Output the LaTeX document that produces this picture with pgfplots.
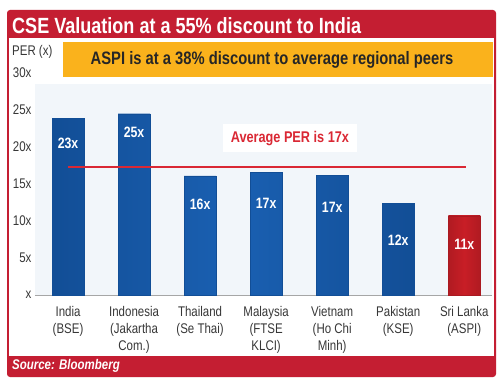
\documentclass[border=0pt]{standalone}
\usepackage{pgfplots}
\pgfplotsset{compat=1.18}
\usepackage{fontspec}
\setmainfont{Liberation Sans}[FakeStretch=0.82]
\definecolor{cseRed}{RGB}{196,30,50}
\definecolor{barBlue}{RGB}{26,96,178}
\definecolor{barEdge}{RGB}{18,78,150}
\definecolor{slRed}{RGB}{200,30,38}
\definecolor{avgRed}{RGB}{218,40,52}
\definecolor{orangeBox}{RGB}{250,178,28}
\definecolor{plotBg}{RGB}{242,246,250}
\definecolor{tickGray}{RGB}{55,55,55}
\begin{document}
\begin{tikzpicture}
\useasboundingbox (0pt,0pt) rectangle (500pt,384pt);
\fill[white] (0pt,0pt) rectangle (500pt,384pt);
% frame
\fill[cseRed, rounded corners=3pt] (7pt,7pt) rectangle (496pt,374pt);
\fill[white] (9pt,28pt) rectangle (494pt,346pt);
\fill[plotBg] (35pt,89pt) rectangle (492pt,300pt);
\begin{axis}[
  at={(35pt,89pt)}, anchor=south west,
  scale only axis, width=457pt, height=222pt,
  xmin=-0.5, xmax=6.42, ymin=0, ymax=30,
  axis lines*=left,
  y axis line style={draw=none},
  x axis line style={draw=gray!70, line width=0.8pt},
  major tick length=0pt,
  ytick={0,5,10,15,20,25,30},
  yticklabels={x,5x,10x,15x,20x,25x,30x},
  yticklabel style={font=\fontsize{14}{16}\selectfont, text=tickGray},
  xtick={0,1,2,3,4,5,6},
  xticklabels={{India\\(BSE)},{Indonesia\\(Jakartha\\Com.)},{Thailand\\(Se Thai)},{Malaysia\\(FTSE\\KLCI)},{Vietnam\\(Ho Chi\\Minh)},{Pakistan\\(KSE)},{Sri Lanka\\(ASPI)}},
  xticklabel style={font=\fontsize{14}{17}\selectfont, text=tickGray, align=center, yshift=-8pt},
  clip=false,
]
\addplot[ybar, bar width=32pt, bar shift=0pt, left color=barEdge, right color=barEdge, middle color=barBlue, draw=barEdge] coordinates {(0,23.9) (1,24.5) (2,16.1) (3,16.6) (4,16.2) (5,12.4)};
\addplot[ybar, bar width=32pt, bar shift=0pt, left color=slRed!88!black, right color=slRed!88!black, middle color=slRed, draw=slRed!85!black] coordinates {(6,10.7)};
\addplot[avgRed, line width=1.4pt] coordinates {(0,17.3) (6.02,17.3)};
\addplot[draw=none, mark=none, nodes near coords, point meta=explicit symbolic,
  nodes near coords style={anchor=center, text=white, font=\fontsize{15}{17}\selectfont\bfseries}]
  table[meta=label] {
x y label
0 20.5 23x
1 22.0 25x
2 12.2 16x
3 12.4 17x
4 11.9 17x
5 7.4 12x
6 6.8 11x
};
\node[fill=white, inner xsep=8pt, inner ysep=7pt, text=avgRed, font=\fontsize{15.5}{17}\selectfont\bfseries] at (axis cs:3.36,21.2) {Average PER is 17x};
\end{axis}
% orange banner
\fill[orangeBox] (63pt,307pt) rectangle (493pt,342pt);
\node[font=\fontsize{18}{20}\selectfont\bfseries, text=black!85] at (272pt,324.5pt) {ASPI is at a 38\% discount to average regional peers};
% titles
\node[anchor=base west, font=\fontsize{22}{24}\selectfont\bfseries, text=white, inner sep=0pt] at (12pt,351pt) {CSE Valuation at a 55\% discount to India};
\node[anchor=west, font=\fontsize{14}{16}\selectfont, text=tickGray, inner sep=0pt] at (12pt,332pt) {PER (x)};
\node[anchor=west, font=\fontsize{14}{16}\selectfont\bfseries\itshape, text=white, inner sep=0pt] at (12pt,18pt) {Source: Bloomberg};
\end{tikzpicture}
\end{document}
